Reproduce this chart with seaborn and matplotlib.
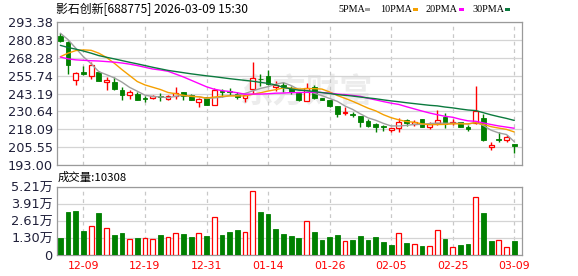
import matplotlib
matplotlib.use("Agg")
import matplotlib.pyplot as plt
from matplotlib.patches import Rectangle
import seaborn as sns
import numpy as np
import pandas as pd

# ---------------- data ----------------
opens = [283.8, 279.6, 252.8, 258.2, 255.4, 258.4, 251.0, 251.0, 245.4, 242.4,
         242.6, 239.8, 240.0, 241.2, 239.6, 241.4, 244.0, 242.0, 237.2, 240.4,
         235.3, 244.6, 245.2, 243.1, 239.8, 246.6, 253.5, 255.3, 247.6, 249.0,
         246.9, 243.4, 238.0, 247.5, 240.1, 238.4, 234.4, 229.3, 228.9, 227.5,
         223.9, 221.7, 220.3, 217.5, 219.1, 224.5, 221.9, 225.2, 219.8, 222.6,
         226.8, 222.6, 223.1, 219.8, 222.8, 226.3, 205.4, 211.0, 210.5, 207.7]
highs = [285.4, 280.3, 258.2, 262.2, 265.6, 258.9, 254.7, 254.7, 247.7, 245.9,
         244.2, 241.7, 242.1, 243.5, 241.9, 247.7, 244.2, 243.0, 240.0, 240.5,
         247.2, 246.3, 247.2, 244.0, 242.0, 265.1, 256.6, 259.4, 251.7, 251.2,
         248.3, 244.2, 250.7, 249.3, 240.3, 238.6, 234.4, 233.5, 230.3, 227.5,
         225.6, 222.7, 221.3, 218.7, 226.3, 225.2, 224.9, 225.2, 223.3, 231.9,
         229.8, 225.6, 223.1, 221.0, 248.2, 229.1, 209.3, 216.0, 213.8, 207.7]
lows = [279.1, 257.0, 248.9, 255.9, 253.1, 251.7, 245.4, 245.9, 238.4, 239.1,
        238.4, 237.2, 239.6, 238.2, 238.9, 239.5, 238.8, 238.8, 233.8, 235.2,
        235.2, 240.7, 242.0, 239.6, 237.1, 242.5, 248.7, 249.5, 244.6, 244.2,
        243.1, 238.0, 237.8, 239.5, 238.6, 233.7, 226.8, 227.8, 226.8, 219.4,
        219.8, 216.3, 217.2, 216.3, 215.9, 220.3, 220.3, 219.8, 218.2, 220.8,
        219.1, 221.0, 219.8, 217.0, 222.1, 210.0, 203.5, 209.3, 209.1, 201.6]
closes = [279.8, 263.3, 257.5, 256.8, 262.9, 251.9, 252.9, 246.3, 242.1, 244.2,
          238.4, 239.1, 241.7, 240.7, 241.2, 243.7, 241.6, 238.8, 239.2, 235.3,
          245.5, 244.3, 244.0, 240.5, 241.8, 254.3, 253.1, 250.2, 249.0, 247.5,
          244.2, 238.8, 246.7, 240.0, 238.7, 234.4, 228.5, 230.5, 227.9, 223.3,
          220.5, 219.8, 219.6, 218.7, 223.3, 222.6, 223.3, 219.8, 221.7, 224.5,
          222.1, 223.5, 219.8, 218.4, 231.0, 210.7, 207.0, 210.5, 212.6, 206.4]

ma5 = [285.5, 281.0, 275.0, 269.0, 264.1, 258.5, 256.4, 254.2, 251.2, 247.5,
       244.8, 242.0, 241.1, 240.8, 240.2, 241.3, 241.8, 241.2, 240.9, 239.7,
       240.1, 240.6, 241.7, 241.9, 243.2, 245.0, 246.7, 248.0, 249.7, 250.8,
       248.8, 245.9, 245.2, 243.4, 241.7, 239.7, 237.7, 234.4, 232.0, 228.9,
       226.1, 224.4, 222.2, 220.4, 220.4, 220.8, 221.5, 221.5, 222.1, 222.4,
       222.3, 222.3, 222.3, 221.7, 223.0, 220.7, 217.4, 215.5, 214.4, 209.4]
ma10 = [269.0, 271.5, 273.3, 273.8, 273.5, 271.5, 268.5, 264.5, 260.0, 255.8,
        251.6, 249.2, 247.6, 246.0, 243.9, 243.0, 241.9, 241.2, 240.9, 240.0,
        240.7, 241.3, 241.5, 241.5, 241.5, 242.6, 243.7, 244.9, 245.9, 247.1,
        246.9, 246.3, 246.6, 246.6, 246.3, 244.3, 241.8, 239.8, 237.7, 235.3,
        232.9, 231.0, 228.3, 226.2, 224.7, 223.5, 223.0, 221.9, 221.3, 221.4,
        221.5, 221.9, 221.9, 221.9, 222.7, 221.5, 219.9, 218.9, 218.0, 216.2]
ma20 = [268.8, 267.5, 266.8, 266.5, 266.2, 266.0, 265.6, 265.2, 264.6, 263.8,
        262.8, 261.6, 260.4, 259.7, 258.8, 256.8, 254.8, 252.5, 250.2, 247.9,
        246.2, 245.2, 244.6, 243.7, 242.7, 242.8, 242.8, 243.0, 243.4, 243.5,
        243.8, 243.8, 244.0, 244.0, 243.9, 243.4, 242.8, 242.4, 241.8, 241.2,
        239.8, 238.7, 237.5, 236.4, 235.5, 233.9, 232.4, 230.9, 229.5, 228.3,
        227.2, 226.5, 225.1, 224.0, 223.7, 222.5, 221.4, 220.4, 219.6, 218.8]
ma30 = [277.0, 275.5, 274.3, 273.0, 271.5, 269.8, 268.6, 267.5, 266.3, 265.1,
        264.0, 262.8, 261.6, 260.5, 259.4, 258.6, 257.8, 257.0, 256.3, 255.6,
        255.0, 254.3, 253.6, 253.0, 252.4, 251.8, 251.0, 250.3, 249.2, 247.5,
        246.4, 245.5, 245.2, 244.6, 243.8, 243.2, 242.4, 241.9, 241.4, 240.7,
        240.1, 239.5, 238.7, 238.0, 237.4, 236.7, 236.1, 235.5, 234.9, 234.5,
        233.7, 233.1, 232.3, 231.6, 231.2, 229.7, 228.2, 226.9, 225.7, 224.3]

volumes = [12970, 32800, 33570, 18310, 21870, 32040, 20340, 15260, 16780, 11950,
           12970, 12710, 11950, 15260, 13480, 16530, 16020, 13730, 16530, 14500,
           28740, 15260, 17550, 19070, 17550, 48570, 32800, 31280, 19840, 16020,
           14500, 12970, 25690, 17550, 11440, 13730, 15260, 10680, 11440, 14500,
           11440, 13730, 9920, 7630, 16780, 9150, 8140, 6870, 6870, 19070,
           12210, 6100, 7630, 8390, 44000, 32300, 10680, 11440, 6100, 10308]
vol_up = [0, 0, 0, 0, 1, 0, 1, 0, 0, 1, 0, 1, 1, 0, 1, 1, 0, 0, 1, 0,
          1, 0, 0, 0, 1, 1, 0, 0, 0, 0, 0, 0, 1, 0, 0, 0, 0, 1, 0, 0,
          0, 0, 0, 0, 1, 0, 1, 0, 1, 1, 0, 1, 0, 0, 1, 0, 0, 1, 1, 0]

price_ticks = [193.00, 205.55, 218.09, 230.64, 243.19, 255.74, 268.28, 280.83, 293.38]
vol_ticks = [0, 13030, 26060, 39090, 52120]
vol_tick_labels = ["0", "1.30万", "2.61万", "3.91万", "5.21万"]
date_tick_pos = [3, 11, 19, 27, 35, 43, 51, 59]
date_tick_labels = ["12-09", "12-19", "12-31", "01-14", "01-26", "02-05", "02-25", "03-09"]

title = "影石创新[688775] 2026-03-09 15:30"
vol_title = "成交量:10308"
ma_names = ["5PMA", "10PMA", "20PMA", "30PMA"]

# ---------------- styling ----------------
RED = "#ff0000"
GREEN = "#008000"
MA_COLORS = ["#a0a0a0", "#f5a000", "#ff00ff", "#0b7a3e"]
GRID = "#d4d4d4"
SPINE = "#9a9a9a"
LABEL = "#20203a"

sns.set_theme(style="white")
plt.rcParams["font.family"] = ["DejaVu Sans", "Noto Sans CJK SC"]

W, H = 578, 276
fig = plt.figure(figsize=(W / 100, H / 100), dpi=100)
fig.patch.set_facecolor("white")


def px_rect(l, t, r, b):
    return [l / W, 1 - b / H, (r - l) / W, (b - t) / H]


ax = fig.add_axes(px_rect(56.5, 22, 522.3, 165))
axv = fig.add_axes(px_rect(56.5, 186.7, 522.3, 255))

df = pd.DataFrame(dict(i=np.arange(len(closes)), o=opens, h=highs, l=lows, c=closes,
                       ma5=ma5, ma10=ma10, ma20=ma20, ma30=ma30,
                       vol=volumes, vup=vol_up))
up = df["c"] >= df["o"]
BW = 0.62

# ---------- price panel ----------
# watermark
ax.text(0.535, 0.50, "东方财富", transform=ax.transAxes, ha="center", va="center",
        fontsize=24, fontweight="bold", color="#ececec",
        family=["Noto Sans CJK SC"], zorder=0.5)

dn = df[~up]
ax.vlines(dn["i"], dn["l"], dn["h"], color=GREEN, lw=1.0, zorder=2)
ax.bar(dn["i"], (dn["o"] - dn["c"]).clip(lower=0.35), bottom=dn["c"], width=BW,
       color=GREEN, edgecolor=GREEN, linewidth=0.6, zorder=3)

uu = df[up]
body_top = np.maximum(uu["c"], uu["o"])
body_bot = np.minimum(uu["c"], uu["o"])
ax.vlines(uu["i"], body_top, uu["h"], color=RED, lw=1.0, zorder=2)
ax.vlines(uu["i"], uu["l"], body_bot, color=RED, lw=1.0, zorder=2)
ax.bar(uu["i"], (body_top - body_bot).clip(lower=0.35), bottom=body_bot, width=BW,
       color="white", edgecolor=RED, linewidth=0.9, zorder=3)

for name, col in zip(["ma5", "ma10", "ma20", "ma30"], MA_COLORS):
    sns.lineplot(data=df, x="i", y=name, ax=ax, color=col, linewidth=1.0,
                 legend=False, zorder=4)

ax.set_xlim(-0.5, 60.05)
ax.set_ylim(price_ticks[0], price_ticks[-1])
ax.set_yticks(price_ticks)
ax.set_yticklabels([f"{v:.2f}" for v in price_ticks])
ax.set_xticks(date_tick_pos)
ax.tick_params(axis="x", length=0, labelbottom=False)
ax.tick_params(axis="y", length=0, pad=2.7, labelsize=9.3, labelcolor=LABEL)
ax.set_xlabel("")
ax.set_ylabel("")
ax.set_axisbelow(True)
ax.grid(axis="y", color=GRID, lw=0.9, ls="-")
ax.grid(axis="x", color="#c8c8c8", lw=0.9, ls=(0, (3, 3)))

# ---------- volume panel ----------
vd = df[df["vup"] == 0]
vu = df[df["vup"] == 1]
sns.barplot(x=vd["i"].to_numpy(), y=vd["vol"].to_numpy(), native_scale=True, ax=axv,
            color=GREEN, saturation=1, width=BW, errorbar=None,
            edgecolor=GREEN, linewidth=0.6, zorder=3)
sns.barplot(x=vu["i"].to_numpy(), y=vu["vol"].to_numpy(), native_scale=True, ax=axv,
            color="white", saturation=1, width=BW, errorbar=None,
            edgecolor=RED, linewidth=0.9, zorder=3)

axv.set_xlim(-0.5, 60.05)
axv.set_ylim(vol_ticks[0], vol_ticks[-1])
axv.set_yticks(vol_ticks)
axv.set_yticklabels(vol_tick_labels)
axv.set_xticks(date_tick_pos)
axv.set_xticklabels(date_tick_labels)
axv.tick_params(axis="x", length=0, pad=4.5, labelsize=7.8, labelcolor=RED)
axv.tick_params(axis="y", length=0, pad=2.7, labelsize=9.3, labelcolor=LABEL)
axv.set_xlabel("")
axv.set_ylabel("")
axv.set_axisbelow(True)
axv.grid(axis="y", color=GRID, lw=0.9, ls="-")
axv.grid(axis="x", color="#c8c8c8", lw=0.9, ls=(0, (3, 3)))

for a in (ax, axv):
    for sp in a.spines.values():
        sp.set_visible(True)
        sp.set_color(SPINE)
        sp.set_linewidth(0.9)

# ---------- texts ----------
fig.text(56 / W, 1 - 9.5 / H, title, ha="left", va="center", fontsize=8.6,
         color="black", family=["Noto Sans CJK SC", "DejaVu Sans"])
fig.text(58 / W, 1 - 177 / H, vol_title, ha="left", va="center", fontsize=8.2,
         color="black", family=["Noto Sans CJK SC", "DejaVu Sans"])

leg_text_x = [338, 380, 426, 472]
leg_box_x = [365, 413, 459, 505]
for name, col, tx, bx in zip(ma_names, MA_COLORS, leg_text_x, leg_box_x):
    fig.text(tx / W, 1 - 9.5 / H, name, ha="left", va="center", fontsize=7.3,
             color="black", family=["Liberation Serif"])
    fig.add_artist(Rectangle((bx / W, 1 - 11 / H), 5 / W, 3.5 / H,
                             transform=fig.transFigure, facecolor=col,
                             edgecolor="none"))

fig.savefig("out.png", dpi=100, facecolor="white")
